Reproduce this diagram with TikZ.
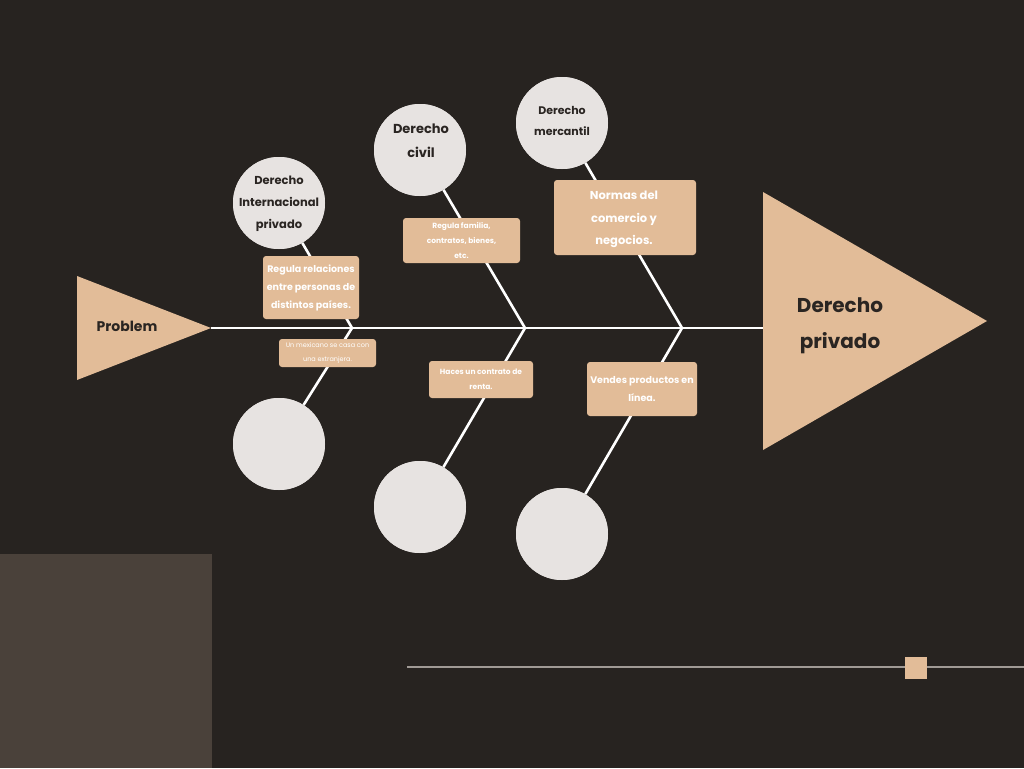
\documentclass[tikz,border=0pt]{standalone}
\usepackage{fontspec}
\setmainfont{Poppins}
\definecolor{bg}{HTML}{272320}
\definecolor{panel}{HTML}{4A413A}
\definecolor{tan}{HTML}{E2BC98}
\definecolor{circ}{HTML}{E7E3E1}
\definecolor{ink}{HTML}{2A2522}
\definecolor{rule}{HTML}{A09A95}
\begin{document}
\begin{tikzpicture}[x=1pt,y=-1pt,
  bone/.style={white,line width=2.6pt},
  spine/.style={white,line width=2pt},
  cat/.style={circle,fill=circ,minimum size=92pt,inner sep=0pt,text=ink,align=center,font=\bfseries},
  lbl/.style={text=ink,align=center,inner sep=0pt},
  note/.style={fill=tan,rounded corners=3pt,text=white,align=center,font=\bfseries,inner sep=0pt},
  tri/.style={fill=tan}]
\useasboundingbox (0,0) rectangle (1024,768);
\fill[bg] (0,0) rectangle (1024,768);
\fill[panel] (0,554) rectangle (212,768);
\coordinate (r1) at (407,667);
\coordinate (r2) at (1024,667);
\draw[rule,line width=1.2pt] (r1) -- (r2);
\node[fill=tan,minimum size=22pt,inner sep=0pt] (sq) at (916,668) {};
% triangles
\fill[tri] (77,276) -- (77,380) -- (211,328) -- cycle;
\fill[tri] (763,192) -- (763,450) -- (987,321) -- cycle;
\coordinate (head) at (211,328);
\coordinate (tail) at (763,328);
\node[text=ink,font=\bfseries\fontsize{14}{16}\selectfont] (prob) at (127,326) {Problem};
\node[text=ink,font=\bfseries\fontsize{20}{36}\selectfont,align=center] (dp) at (840,326) {Derecho\\privado};
% joints
\coordinate (j1) at (352,328);
\coordinate (j2) at (525,328);
\coordinate (j3) at (682,328);
\draw[spine] (head) -- (tail);
% circles
\node[cat] (c1) at (279,203) {};
\node[cat] (c2) at (420,150) {};
\node[cat] (c3) at (562,123) {};
\node[cat] (d1) at (279,444) {};
\node[cat] (d2) at (420,507) {};
\node[cat] (d3) at (562,534) {};
% bones
\draw[bone] (c1) -- (j1) -- (d1);
\draw[bone] (c2) -- (j2) -- (d2);
\draw[bone] (c3) -- (j3) -- (d3);
\foreach \n in {c1,c2,c3,d1,d2,d3} {\node[cat] at (\n) {};}
\node[lbl,font=\bfseries\fontsize{11.5}{22}\selectfont] (t1) at (279,204) {Derecho\\Internacional\\privado};
\node[lbl,font=\bfseries\fontsize{13}{24}\selectfont] (t2) at (421,141) {Derecho\\civil};
\node[lbl,font=\bfseries\fontsize{11}{21}\selectfont] (t3) at (562,121) {Derecho\\mercantil};
% notes
\node[note,minimum width=96pt,minimum height=63pt,font=\bfseries\fontsize{9.5}{18}\selectfont] (n1) at (311,287.5) {Regula relaciones\\entre personas de\\distintos países.};
\node[note,minimum width=97pt,minimum height=28pt,font=\fontsize{6.5}{14}\selectfont] (n1b) at (327.5,353) {Un mexicano se casa con\\una extranjera.};
\node[note,minimum width=117pt,minimum height=45pt,font=\bfseries\fontsize{7.5}{15}\selectfont] (n2) at (461.5,240.5) {Regula familia,\\contratos, bienes,\\etc.};
\node[note,minimum width=104pt,minimum height=37pt,font=\bfseries\fontsize{7.5}{15}\selectfont] (n2b) at (481,379.5) {Haces un contrato de\\renta.};
\node[note,minimum width=142pt,minimum height=75pt,font=\bfseries\fontsize{11.5}{22.5}\selectfont] (n3) at (625,217.5) {};
\node[lbl,text=white,font=\bfseries\fontsize{11.5}{22.5}\selectfont] (n3t) at (624,219.5) {Normas del\\comercio y\\negocios.};
\node[note,minimum width=110pt,minimum height=54pt,font=\bfseries\fontsize{9.5}{18}\selectfont] (n3b) at (642,389) {Vendes productos en\\línea.};
\end{tikzpicture}
\end{document}
